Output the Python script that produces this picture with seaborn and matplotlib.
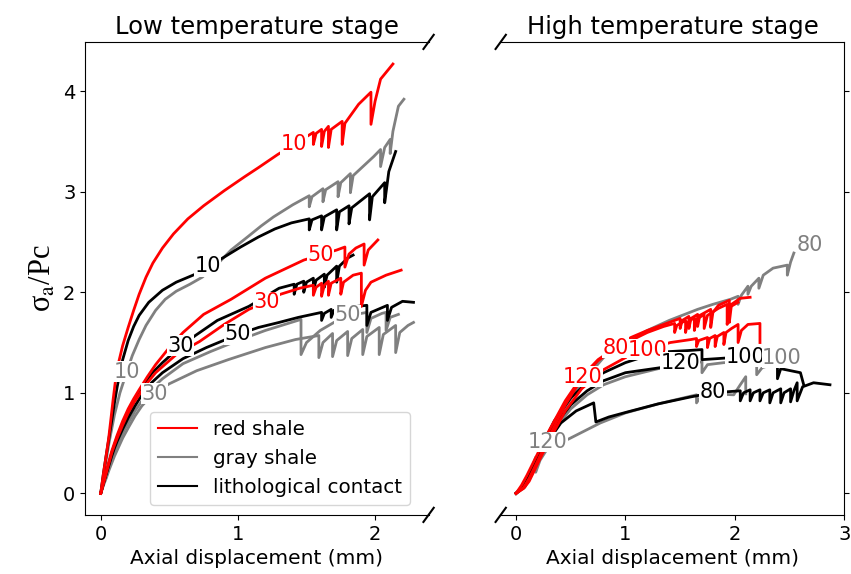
import matplotlib
matplotlib.use("Agg")
import matplotlib.pyplot as plt
from matplotlib.lines import Line2D
import seaborn as sns

plt.rcParams['mathtext.fontset'] = 'stix'

# ---------------- data: low temperature stage ----------------
red10_x = [0, 0.02, 0.04, 0.058, 0.075, 0.09, 0.11, 0.13, 0.16, 0.2, 0.24, 0.28, 0.33, 0.38, 0.45, 0.53, 0.635, 0.75, 0.9, 1.05, 1.15, 1.29, 1.41, 1.55, 1.55, 1.57, 1.61, 1.61, 1.63, 1.66, 1.66, 1.68, 1.76, 1.76, 1.78, 1.88, 1.97, 1.97, 2.0, 2.04, 2.13]
red10_y = [0, 0.2, 0.38, 0.55, 0.75, 0.93, 1.15, 1.3, 1.47, 1.65, 1.82, 1.98, 2.15, 2.29, 2.44, 2.58, 2.73, 2.86, 3.01, 3.15, 3.24, 3.37, 3.47, 3.59, 3.47, 3.58, 3.62, 3.45, 3.6, 3.65, 3.44, 3.62, 3.70, 3.47, 3.68, 3.87, 3.99, 3.67, 3.9, 4.12, 4.27]

black10_x = [0, 0.02, 0.04, 0.06, 0.08, 0.1, 0.12, 0.14, 0.16, 0.2, 0.24, 0.28, 0.35, 0.45, 0.55, 0.69, 0.8, 0.9, 1.02, 1.15, 1.27, 1.39, 1.52, 1.52, 1.54, 1.61, 1.61, 1.63, 1.72, 1.72, 1.74, 1.81, 1.81, 1.83, 1.96, 1.96, 1.98, 2.07, 2.07, 2.1, 2.15]
black10_y = [0, 0.2, 0.38, 0.55, 0.72, 0.9, 1.06, 1.2, 1.33, 1.52, 1.66, 1.77, 1.9, 2.02, 2.1, 2.18, 2.27, 2.35, 2.45, 2.55, 2.63, 2.69, 2.73, 2.62, 2.72, 2.76, 2.62, 2.75, 2.82, 2.62, 2.8, 2.86, 2.68, 2.84, 2.98, 2.72, 2.95, 3.09, 2.89, 3.2, 3.40]

gray10_x = [0, 0.03, 0.06, 0.1, 0.14, 0.19, 0.23, 0.28, 0.33, 0.4, 0.47, 0.55, 0.65, 0.74, 0.85, 0.95, 1.07, 1.17, 1.26, 1.4, 1.52, 1.52, 1.54, 1.62, 1.62, 1.64, 1.73, 1.73, 1.75, 1.82, 1.82, 1.84, 1.99, 2.04, 2.04, 2.07, 2.11, 2.11, 2.13, 2.17, 2.21]
gray10_y = [0, 0.25, 0.5, 0.78, 1.0, 1.21, 1.37, 1.53, 1.67, 1.82, 1.93, 2.01, 2.08, 2.15, 2.28, 2.42, 2.55, 2.66, 2.75, 2.87, 2.96, 2.85, 2.95, 3.03, 2.9, 3.02, 3.10, 2.95, 3.09, 3.18, 2.99, 3.16, 3.35, 3.42, 3.25, 3.44, 3.52, 3.38, 3.6, 3.85, 3.92]

red50_x = [0, 0.02, 0.04, 0.06, 0.08, 0.1, 0.12, 0.16, 0.2, 0.24, 0.28, 0.34, 0.4, 0.5, 0.6, 0.75, 0.95, 1.2, 1.48, 1.6, 1.72, 1.78, 1.78, 1.81, 1.86, 1.92, 1.92, 1.95, 2.02]
red50_y = [0, 0.11, 0.22, 0.32, 0.42, 0.5, 0.58, 0.72, 0.84, 0.94, 1.03, 1.16, 1.28, 1.45, 1.6, 1.78, 1.93, 2.14, 2.32, 2.37, 2.42, 2.45, 2.25, 2.38, 2.44, 2.48, 2.27, 2.42, 2.52]

red30_x = [0, 0.02, 0.04, 0.06, 0.08, 0.1, 0.12, 0.16, 0.2, 0.24, 0.28, 0.34, 0.4, 0.55, 0.72, 0.9, 1.08, 1.2, 1.31, 1.45, 1.55, 1.55, 1.57, 1.61, 1.61, 1.63, 1.66, 1.66, 1.68, 1.75, 1.75, 1.77, 1.84, 1.9, 1.9, 1.93, 1.97, 2.08, 2.19]
red30_y = [0, 0.1, 0.2, 0.3, 0.4, 0.48, 0.55, 0.68, 0.8, 0.9, 0.98, 1.1, 1.2, 1.38, 1.51, 1.68, 1.83, 1.9, 1.98, 2.04, 2.07, 1.97, 2.05, 2.09, 1.96, 2.07, 2.11, 1.97, 2.09, 2.14, 1.98, 2.1, 2.17, 2.19, 1.86, 2.02, 2.1, 2.17, 2.22]

black30_x = [0, 0.02, 0.04, 0.06, 0.08, 0.1, 0.12, 0.16, 0.2, 0.25, 0.3, 0.37, 0.45, 0.58, 0.69, 0.85, 1.08, 1.3, 1.41, 1.41, 1.43, 1.48, 1.48, 1.5, 1.55, 1.55, 1.57, 1.63, 1.63, 1.65, 1.72, 1.72, 1.74, 1.8, 1.84]
black30_y = [0, 0.1, 0.2, 0.3, 0.4, 0.48, 0.56, 0.69, 0.8, 0.93, 1.05, 1.19, 1.3, 1.46, 1.57, 1.72, 1.86, 2.04, 2.08, 1.98, 2.08, 2.11, 2.0, 2.1, 2.14, 2.02, 2.12, 2.18, 2.05, 2.17, 2.26, 2.1, 2.26, 2.34, 2.37]

black50_x = [0, 0.02, 0.04, 0.06, 0.08, 0.1, 0.12, 0.16, 0.2, 0.25, 0.3, 0.37, 0.45, 0.6, 0.77, 1.0, 1.15, 1.3, 1.44, 1.61, 1.61, 1.63, 1.68, 1.68, 1.7, 1.8, 1.94, 1.94, 1.97, 2.09, 2.09, 2.12, 2.2, 2.28]
black50_y = [0, 0.1, 0.19, 0.28, 0.37, 0.45, 0.52, 0.64, 0.75, 0.87, 0.98, 1.1, 1.2, 1.34, 1.45, 1.58, 1.65, 1.7, 1.75, 1.8, 1.72, 1.79, 1.83, 1.75, 1.82, 1.85, 1.87, 1.67, 1.8, 1.87, 1.72, 1.85, 1.91, 1.9]

gray50_x = [0, 0.02, 0.04, 0.06, 0.08, 0.1, 0.12, 0.16, 0.2, 0.25, 0.3, 0.37, 0.45, 0.6, 0.8, 1.0, 1.2, 1.46, 1.46, 1.5, 1.6, 1.7, 1.8, 1.9, 1.94, 1.94, 1.97, 2.05, 2.08, 2.08, 2.11, 2.17]
gray50_y = [0, 0.09, 0.17, 0.26, 0.34, 0.41, 0.48, 0.6, 0.7, 0.82, 0.92, 1.04, 1.14, 1.29, 1.41, 1.52, 1.62, 1.73, 1.38, 1.5, 1.62, 1.7, 1.76, 1.79, 1.8, 1.6, 1.74, 1.79, 1.8, 1.62, 1.75, 1.78]

gray30_x = [0, 0.02, 0.04, 0.06, 0.08, 0.1, 0.12, 0.16, 0.2, 0.25, 0.3, 0.39, 0.5, 0.7, 0.93, 1.2, 1.42, 1.59, 1.59, 1.62, 1.69, 1.69, 1.72, 1.8, 1.8, 1.83, 1.91, 1.91, 1.94, 2.03, 2.03, 2.06, 2.15, 2.15, 2.18, 2.24, 2.28]
gray30_y = [0, 0.08, 0.15, 0.23, 0.3, 0.37, 0.43, 0.55, 0.65, 0.77, 0.87, 1.0, 1.09, 1.22, 1.33, 1.45, 1.53, 1.57, 1.35, 1.5, 1.59, 1.36, 1.52, 1.61, 1.37, 1.54, 1.63, 1.38, 1.56, 1.65, 1.38, 1.58, 1.67, 1.4, 1.6, 1.67, 1.7]

# ---------------- data: high temperature stage ----------------
hred80_x = [0, 0.05, 0.1, 0.15, 0.2, 0.3, 0.45, 0.6, 0.75, 0.91, 1.05, 1.2, 1.35, 1.5, 1.5, 1.52, 1.58, 1.58, 1.6, 1.66, 1.66, 1.68, 1.78, 1.78, 1.8, 1.85, 1.95, 1.95, 1.97, 2.05, 2.14]
hred80_y = [0, 0.08, 0.18, 0.29, 0.4, 0.62, 0.92, 1.16, 1.33, 1.45, 1.55, 1.62, 1.68, 1.74, 1.64, 1.72, 1.76, 1.64, 1.74, 1.78, 1.66, 1.77, 1.83, 1.65, 1.8, 1.87, 1.92, 1.7, 1.88, 1.94, 1.95]

hred120_x = [0, 0.07, 0.12, 0.16, 0.2, 0.3, 0.45, 0.61, 0.75, 0.9, 1.05, 1.2, 1.35, 1.45, 1.45, 1.47, 1.55, 1.55, 1.57, 1.63, 1.63, 1.65, 1.72, 1.72, 1.75, 1.85, 1.93, 1.93, 1.95, 2.03]
hred120_y = [0, 0.06, 0.15, 0.24, 0.33, 0.56, 0.88, 1.16, 1.32, 1.44, 1.52, 1.6, 1.66, 1.69, 1.6, 1.67, 1.72, 1.6, 1.7, 1.75, 1.62, 1.73, 1.78, 1.64, 1.77, 1.84, 1.88, 1.68, 1.85, 1.9]

hred100_x = [0, 0.07, 0.12, 0.16, 0.2, 0.3, 0.45, 0.6, 0.8, 1.0, 1.2, 1.41, 1.6, 1.65, 1.65, 1.67, 1.75, 1.75, 1.77, 1.82, 1.82, 1.84, 1.9, 1.9, 1.92, 1.97, 2.03, 2.03, 2.06, 2.12, 2.23, 2.23]
hred100_y = [0, 0.05, 0.12, 0.21, 0.3, 0.52, 0.82, 1.04, 1.23, 1.35, 1.43, 1.5, 1.53, 1.54, 1.46, 1.52, 1.55, 1.45, 1.54, 1.57, 1.46, 1.56, 1.6, 1.48, 1.6, 1.64, 1.68, 1.5, 1.62, 1.68, 1.69, 1.5]

hgray80_x = [0, 0.1, 0.2, 0.3, 0.45, 0.6, 0.8, 1.0, 1.2, 1.4, 1.66, 1.8, 1.96, 2.03, 2.03, 2.06, 2.12, 2.12, 2.15, 2.22, 2.22, 2.26, 2.35, 2.48, 2.48, 2.51, 2.54]
hgray80_y = [0, 0.12, 0.32, 0.55, 0.86, 1.1, 1.35, 1.5, 1.62, 1.72, 1.83, 1.88, 1.93, 1.96, 1.88, 1.97, 2.06, 1.98, 2.06, 2.14, 2.04, 2.17, 2.24, 2.27, 2.17, 2.3, 2.39]

hblack100_x = [0, 0.08, 0.15, 0.25, 0.35, 0.5, 0.65, 0.8, 1.0, 1.2, 1.4, 1.57, 1.7, 1.7, 1.84, 2.1, 2.3, 2.39, 2.39, 2.42, 2.6, 2.63]
hblack100_y = [0, 0.08, 0.25, 0.5, 0.72, 0.95, 1.1, 1.2, 1.3, 1.37, 1.41, 1.42, 1.43, 1.33, 1.34, 1.36, 1.3, 1.26, 1.14, 1.24, 1.2, 1.08]

hblack120_x = [0, 0.08, 0.15, 0.25, 0.35, 0.5, 0.65, 0.8, 1.0, 1.32, 1.5, 1.62]
hblack120_y = [0, 0.07, 0.22, 0.46, 0.67, 0.88, 1.02, 1.12, 1.2, 1.25, 1.3, 1.32]

hblack80_x = [0, 0.08, 0.15, 0.25, 0.41, 0.55, 0.71, 0.73, 0.85, 1.02, 1.3, 1.6, 1.8, 2.05, 2.05, 2.08, 2.14, 2.14, 2.17, 2.23, 2.23, 2.26, 2.32, 2.32, 2.35, 2.42, 2.42, 2.45, 2.51, 2.51, 2.54, 2.57, 2.57, 2.62, 2.72, 2.87]
hblack80_y = [0, 0.08, 0.24, 0.45, 0.7, 0.82, 0.9, 0.71, 0.76, 0.81, 0.89, 0.96, 1.0, 1.02, 0.92, 1.0, 1.03, 0.92, 1.0, 1.03, 0.92, 1.0, 1.03, 0.9, 1.0, 1.04, 0.9, 1.0, 1.04, 0.91, 1.02, 1.1, 0.92, 1.06, 1.1, 1.08]

hgray100_x = [0, 0.08, 0.15, 0.25, 0.35, 0.5, 0.65, 0.8, 1.0, 1.3, 1.6, 1.7, 1.7, 1.75, 1.9, 2.1, 2.2, 2.2, 2.25, 2.4]
hgray100_y = [0, 0.06, 0.2, 0.42, 0.63, 0.84, 0.98, 1.08, 1.16, 1.24, 1.29, 1.31, 1.2, 1.28, 1.3, 1.3, 1.28, 1.18, 1.25, 1.3]

hgray120_x = [0, 0.1, 0.18, 0.18, 0.22, 0.29, 0.48, 0.77, 1.0, 1.3, 1.65, 1.65, 1.68, 1.8, 1.99, 2.05, 2.1, 2.1]
hgray120_y = [0, 0.12, 0.36, 0.21, 0.33, 0.45, 0.54, 0.7, 0.8, 0.89, 0.98, 0.9, 0.95, 0.99, 0.98, 1.08, 1.16, 0.99]

# inline labels: (text, x, y)
low_labels_red = [("10", 1.41, 3.47), ("50", 1.6, 2.37), ("30", 1.21, 1.9)]
low_labels_black = [("10", 0.78, 2.26), ("30", 0.58, 1.47), ("50", 1.0, 1.58)]
low_labels_gray = [("10", 0.19, 1.21), ("30", 0.39, 0.99), ("50", 1.8, 1.77)]
high_labels_red = [("80", 0.91, 1.45), ("100", 1.2, 1.43), ("120", 0.61, 1.16)]
high_labels_black = [("120", 1.5, 1.3), ("100", 2.1, 1.36), ("80", 1.8, 1.01)]
high_labels_gray = [("80", 2.69, 2.47), ("100", 2.43, 1.35), ("120", 0.29, 0.51)]

legend_names = ["red shale", "gray shale", "lithological contact"]
colors = {"red": "red", "gray": "gray", "black": "black"}

# ---------------- figure ----------------
fig, (ax1, ax2) = plt.subplots(1, 2, sharey=True, figsize=(8.51, 5.74), dpi=100)
fig.subplots_adjust(left=0.1, right=0.992, top=0.927, bottom=0.103, wspace=0.21)

low = [
    (gray30_x, gray30_y, "gray"), (gray50_x, gray50_y, "gray"), (gray10_x, gray10_y, "gray"),
    (black50_x, black50_y, "black"), (black30_x, black30_y, "black"), (black10_x, black10_y, "black"),
    (red30_x, red30_y, "red"), (red50_x, red50_y, "red"), (red10_x, red10_y, "red"),
]
high = [
    (hgray120_x, hgray120_y, "gray"), (hgray100_x, hgray100_y, "gray"), (hgray80_x, hgray80_y, "gray"),
    (hblack80_x, hblack80_y, "black"), (hblack120_x, hblack120_y, "black"), (hblack100_x, hblack100_y, "black"),
    (hred100_x, hred100_y, "red"), (hred120_x, hred120_y, "red"), (hred80_x, hred80_y, "red"),
]
for ax, curves in ((ax1, low), (ax2, high)):
    for xs, ys, c in curves:
        sns.lineplot(x=xs, y=ys, color=colors[c], sort=False, estimator=None,
                     linewidth=2, ax=ax)

def put_labels(ax, labels, c):
    for s, x, y in labels:
        ax.text(x, y, s, color=colors[c], fontsize=15, ha="center", va="center",
                zorder=10, bbox=dict(boxstyle="square,pad=0.02", fc="white", ec="none"))

put_labels(ax1, low_labels_red, "red")
put_labels(ax1, low_labels_black, "black")
put_labels(ax1, low_labels_gray, "gray")
put_labels(ax2, high_labels_red, "red")
put_labels(ax2, high_labels_black, "black")
put_labels(ax2, high_labels_gray, "gray")

ax1.set_xlim(-0.114, 2.39)
ax2.set_xlim(-0.14, 2.995)
ax1.set_ylim(-0.214, 4.49)
ax1.set_xticks([0, 1, 2])
ax2.set_xticks([0, 1, 2, 3])
ax1.set_yticks([0, 1, 2, 3, 4])

ax1.spines['right'].set_visible(False)
ax2.spines['left'].set_visible(False)
ax2.yaxis.tick_right()
ax2.tick_params(labelright=False, labelleft=False)
for ax in (ax1, ax2):
    ax.tick_params(labelsize=14)
    ax.set_xlabel("Axial displacement (mm)", fontsize=14.5)

ax1.set_title("Low temperature stage", fontsize=17.5)
ax2.set_title("High temperature stage", fontsize=17.5)
ax1.set_ylabel(r"σ$_{\rm a}$/Pc", fontsize=22, family="Liberation Serif",
               math_fontfamily="stix")

d = 0.015
kw = dict(transform=ax1.transAxes, color='k', clip_on=False, lw=1.5)
ax1.plot((1 - d, 1 + d), (-d, +d), **kw)
ax1.plot((1 - d, 1 + d), (1 - d, 1 + d), **kw)
kw.update(transform=ax2.transAxes)
ax2.plot((-d, +d), (-d, +d), **kw)
ax2.plot((-d, +d), (1 - d, 1 + d), **kw)

handles = [Line2D([0], [0], color=colors[c], lw=1.5) for c in ("red", "gray", "black")]
ax1.legend(handles, legend_names, loc="lower right", fontsize=14.3,
           bbox_to_anchor=(0.975, 0.0))

fig.savefig("out.png", dpi=100)
